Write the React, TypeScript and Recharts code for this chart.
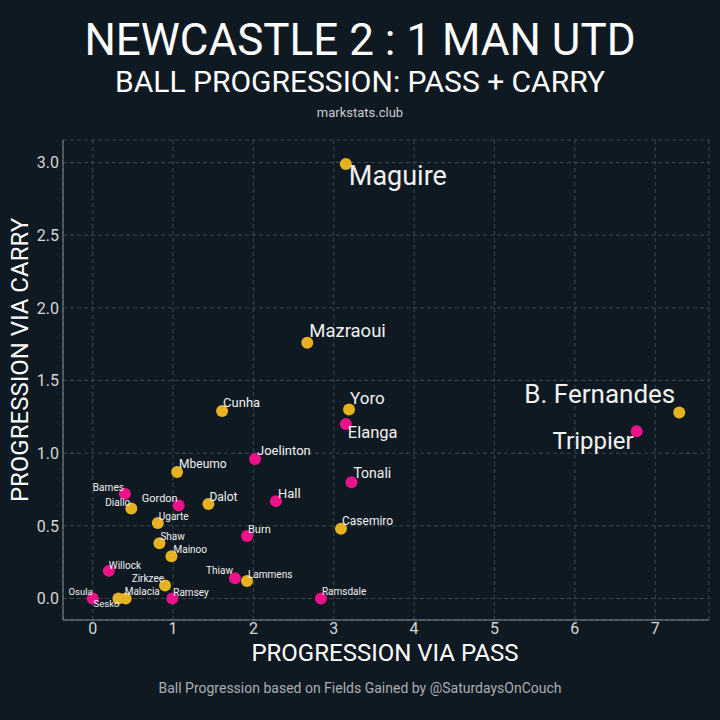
import { ScatterChart, Scatter, XAxis, YAxis, CartesianGrid } from "recharts";

const players = [
  "Maguire", "Mazraoui", "B. Fernandes", "Trippier", "Yoro", "Elanga", "Tonali",
  "Cunha", "Joelinton", "Mbeumo", "Hall", "Dalot", "Casemiro", "Burn",
  "Lammens", "Thiaw", "Barnes", "Diallo", "Gordon", "Ugarte", "Shaw",
  "Mainoo", "Willock", "Zirkzee", "Osula", "Sesko", "Malacia", "Ramsey", "Ramsdale",
];
const passProg = [
  3.15, 2.67, 7.3, 6.77, 3.19, 3.15, 3.22,
  1.61, 2.02, 1.05, 2.28, 1.44, 3.09, 1.92,
  1.92, 1.77, 0.4, 0.48, 1.07, 0.81, 0.83,
  0.98, 0.2, 0.9, 0.0, 0.32, 0.41, 0.99, 2.84,
];
const carryProg = [
  2.99, 1.76, 1.28, 1.15, 1.3, 1.2, 0.8,
  1.29, 0.96, 0.87, 0.67, 0.65, 0.48, 0.43,
  0.12, 0.14, 0.72, 0.62, 0.64, 0.52, 0.38,
  0.29, 0.19, 0.09, 0.0, 0.0, 0.0, 0.0, 0.0,
];
const teams = [
  "MUN", "MUN", "MUN", "NEW", "MUN", "NEW", "NEW",
  "MUN", "NEW", "MUN", "NEW", "MUN", "MUN", "NEW",
  "MUN", "NEW", "NEW", "MUN", "NEW", "MUN", "MUN",
  "MUN", "NEW", "MUN", "NEW", "MUN", "MUN", "NEW", "NEW",
];
const xTicks = [0, 1, 2, 3, 4, 5, 6, 7];
const yTicks = [0, 0.5, 1, 1.5, 2, 2.5, 3];

const data = players.map((name, i) => ({
  name,
  pass: passProg[i],
  carry: carryProg[i],
  team: teams[i],
}));

const teamColor: Record<string, string> = { NEW: "#ec128a", MUN: "#e6b222" };

// label placement: dx, dy, anchor, font size
const labelLayout: Record<string, [number, number, string, number]> = {
  Maguire: [3, 21, "start", 27],
  Mazraoui: [2, -6, "start", 18.5],
  "B. Fernandes": [-4, -9, "end", 26],
  Trippier: [-3, 18, "end", 24],
  Yoro: [1, -6, "start", 17],
  Elanga: [2, 14, "start", 16.5],
  Tonali: [2, -4, "start", 14],
  Cunha: [1, -4, "start", 13],
  Joelinton: [2, -4, "start", 13],
  Mbeumo: [2, -4, "start", 12],
  Hall: [2, -3, "start", 13],
  Dalot: [1, -3, "start", 12],
  Casemiro: [1, -4, "start", 12],
  Burn: [1, -3, "start", 11],
  Lammens: [1, -3, "start", 10],
  Thiaw: [-2, -4, "end", 10],
  Barnes: [-1, -3, "end", 10],
  Diallo: [-1, -2, "end", 10],
  Gordon: [-1, -3, "end", 11],
  Ugarte: [1, -3, "start", 10],
  Shaw: [1, -3, "start", 10],
  Mainoo: [2, -3, "start", 10],
  Willock: [0, -2, "start", 10],
  Zirkzee: [-1, -3, "end", 10],
  Osula: [0, -3, "end", 9.5],
  Sesko: [1, 9, "end", 9.5],
  Malacia: [-1, -3, "start", 10],
  Ramsey: [1, -2, "start", 10],
  Ramsdale: [1, -3, "start", 10],
};

const font = "Roboto, 'DejaVu Sans', sans-serif";

const PlayerDot = (props: any) => {
  const { cx, cy, payload } = props;
  const l = labelLayout[payload.name] || [2, -4, "start", 10];
  return (
    <g>
      <circle cx={cx} cy={cy} r={6} fill={teamColor[payload.team]} />
      <text
        x={cx + l[0]}
        y={cy + l[1]}
        textAnchor={l[2] as any}
        fontSize={l[3]}
        fill="#f2f2f2"
        fontFamily={font}
      >
        {payload.name}
      </text>
    </g>
  );
};

export default function App() {
  return (
    <div
      style={{
        position: "absolute",
        left: 0,
        top: 0,
        width: 720,
        height: 720,
        background: "#0f1922",
        fontFamily: font,
        color: "#fff",
      }}
    >
      <div style={{ position: "absolute", top: 14, width: 720, textAlign: "center", fontSize: 44 }}>
        NEWCASTLE 2 : 1 MAN UTD
      </div>
      <div style={{ position: "absolute", top: 64, width: 720, textAlign: "center", fontSize: 30 }}>
        BALL PROGRESSION: PASS + CARRY
      </div>
      <div style={{ position: "absolute", top: 105, width: 720, textAlign: "center", fontSize: 13, color: "#c8ccd0" }}>
        markstats.club
      </div>
      <ScatterChart width={720} height={720} margin={{ top: 140, right: 11, bottom: 60, left: 13 }}>
        <CartesianGrid stroke="#3a4950" strokeDasharray="4 3" />
        <XAxis
          type="number"
          dataKey="pass"
          domain={[-0.37, 7.67]}
          ticks={xTicks}
          height={40}
          tickSize={2}
          tickMargin={1}
          tickLine={false}
          axisLine={{ stroke: "#7f8b90" }}
          tick={{ fill: "#d4d7d9", fontSize: 16, fontFamily: font }}
          allowDataOverflow
        />
        <YAxis
          type="number"
          dataKey="carry"
          domain={[-0.148, 3.155]}
          ticks={yTicks}
          width={50}
          tickSize={2}
          tickMargin={2}
          tickLine={false}
          axisLine={{ stroke: "#7f8b90" }}
          tickFormatter={(v: number) => v.toFixed(1)}
          tick={{ fill: "#d4d7d9", fontSize: 16, fontFamily: font }}
          allowDataOverflow
        />
        <Scatter data={data} shape={PlayerDot} isAnimationActive={false} />
      </ScatterChart>
      <div
        style={{
          position: "absolute",
          top: 642,
          width: 720,
          left: 25,
          textAlign: "center",
          fontSize: 24,
          lineHeight: "22px",
        }}
      >
        PROGRESSION VIA PASS
      </div>
      <div
        style={{
          position: "absolute",
          left: 20,
          top: 360,
          fontSize: 24,
          whiteSpace: "nowrap",
          transform: "translate(-50%, -50%) rotate(-90deg)",
        }}
      >
        PROGRESSION VIA CARRY
      </div>
      <div style={{ position: "absolute", top: 680, width: 720, textAlign: "center", fontSize: 14, color: "#a9afb4" }}>
        Ball Progression based on Fields Gained by @SaturdaysOnCouch
      </div>
    </div>
  );
}
